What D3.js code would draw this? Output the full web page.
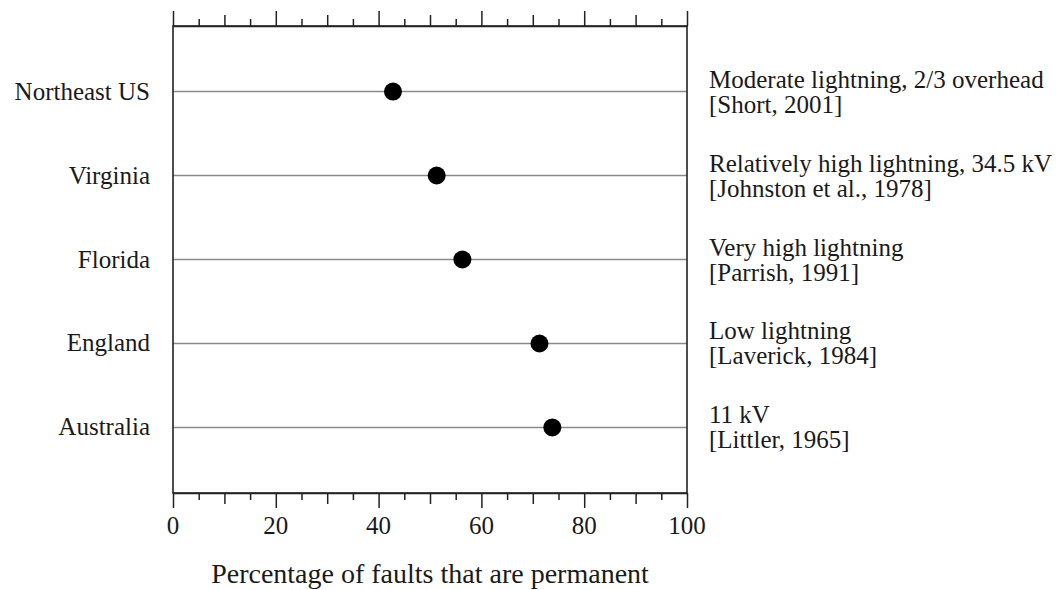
<!DOCTYPE html>
<html>
<head>
<meta charset="utf-8">
<script src="https://cdn.jsdelivr.net/npm/d3@7/dist/d3.min.js"></script>
<style>
  body { margin: 0; background: #fff; }
  svg { display: block; }
  text { font-family: "Liberation Serif", "Times New Roman", serif; fill: #1a1a1a; }
</style>
</head>
<body>
<svg id="chart" width="1063" height="590"></svg>
<script>
// ---- data ----
const regions = ["Northeast US", "Virginia", "Florida", "England", "Australia"];
const permanentPct = [42.8, 51.3, 56.3, 71.3, 73.8];
const noteLine1 = ["Moderate lightning, 2/3 overhead", "Relatively high lightning, 34.5 kV", "Very high lightning", "Low lightning", "11 kV"];
const noteLine2 = ["[Short, 2001]", "[Johnston et al., 1978]", "[Parrish, 1991]", "[Laverick, 1984]", "[Littler, 1965]"];
const xTickLabels = [0, 20, 40, 60, 80, 100];
const xMinorTicks = d3.range(0, 101, 5);
const xTitle = "Percentage of faults that are permanent";

// ---- layout ----
const svg = d3.select("#chart");
const L = 173, R = 687, T = 26, B = 493;
const x = d3.scaleLinear().domain([0, 100]).range([L, R]);
const y = d3.scalePoint().domain(regions).range([T, B]).padding(0.78);

const tickLen = v => (v % 20 === 0 ? 15 : (v % 10 === 0 ? 11 : 7));

// gridlines
svg.append("g").selectAll("line").data(regions).join("line")
  .attr("x1", L).attr("x2", R)
  .attr("y1", d => y(d)).attr("y2", d => y(d))
  .attr("stroke", "#8a8a8a").attr("stroke-width", 1.5);

// frame
svg.append("rect").attr("x", L).attr("y", T).attr("width", R - L).attr("height", B - T)
  .attr("fill", "none").attr("stroke", "#222").attr("stroke-width", 1.6);

// bottom axis
const bottomAxis = svg.append("g").attr("transform", `translate(0,${B})`)
  .call(d3.axisBottom(x).tickValues(xMinorTicks).tickSize(0).tickFormat(""));
bottomAxis.select(".domain").attr("stroke", "#222").attr("stroke-width", 1.6);
bottomAxis.selectAll(".tick line").attr("y2", d => tickLen(d)).attr("stroke", "#222").attr("stroke-width", 1.5);
bottomAxis.selectAll(".tick text").remove();
svg.append("g").selectAll("text").data(xTickLabels).join("text")
  .attr("x", d => x(d)).attr("y", 534)
  .attr("text-anchor", "middle").attr("font-size", 25)
  .text(d => d);

// top axis
const topAxis = svg.append("g").attr("transform", `translate(0,${T})`)
  .call(d3.axisTop(x).tickValues(xMinorTicks).tickSize(0).tickFormat(""));
topAxis.select(".domain").attr("stroke", "#222").attr("stroke-width", 1.6);
topAxis.selectAll(".tick line").attr("y2", d => -tickLen(d)).attr("stroke", "#222").attr("stroke-width", 1.5);

// left labels
svg.append("g").selectAll("text").data(regions).join("text")
  .attr("x", 150).attr("y", d => y(d) + 8)
  .attr("text-anchor", "end").attr("font-size", 25)
  .text(d => d);

// dots
svg.append("g").selectAll("circle").data(regions).join("circle")
  .attr("cx", (d, i) => x(permanentPct[i])).attr("cy", d => y(d))
  .attr("r", 9).attr("fill", "#000");

// notes
const notes = svg.append("g");
notes.selectAll("text.n1").data(regions).join("text").attr("class", "n1")
  .attr("x", 709).attr("y", d => y(d) - 4).attr("font-size", 25)
  .text((d, i) => noteLine1[i]);
notes.selectAll("text.n2").data(regions).join("text").attr("class", "n2")
  .attr("x", 709).attr("y", d => y(d) + 21).attr("font-size", 25)
  .text((d, i) => noteLine2[i]);

// x title
svg.append("text").attr("x", (L + R) / 2).attr("y", 583)
  .attr("text-anchor", "middle").attr("font-size", 28)
  .text(xTitle);
</script>
</body>
</html>
